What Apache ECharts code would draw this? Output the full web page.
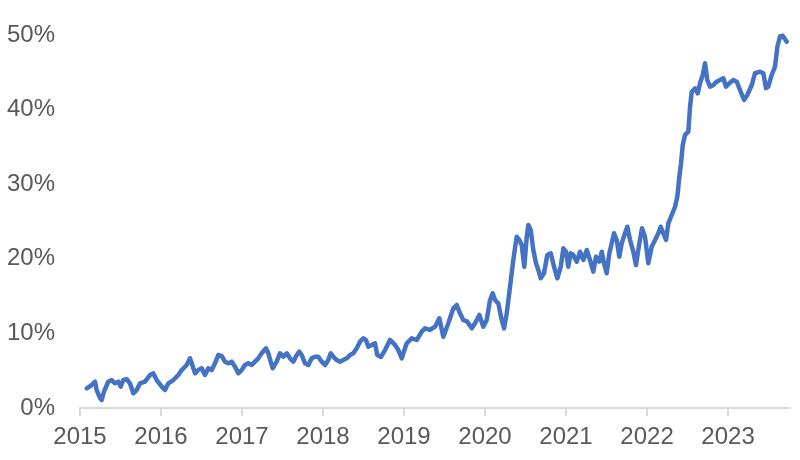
<!DOCTYPE html>
<html>
<head>
<meta charset="utf-8">
<style>html,body{margin:0;padding:0;background:#fff}#c{width:800px;height:460px}</style>
<script src="https://cdn.jsdelivr.net/npm/echarts@6/dist/echarts.min.js"></script>
</head>
<body>
<div id="c"></div>
<script>
// decimal years
const years = [
2015.083,2015.144,2015.185,2015.206,2015.247,2015.268,2015.296,2015.349,2015.391,2015.432,2015.473,2015.502,2015.535,2015.577,2015.617,2015.658,2015.700,2015.741,2015.802,2015.864,2015.905,2015.947,2016.009,2016.049,2016.090,2016.152,2016.214,2016.256,2016.317,
2016.358,2016.379,2016.420,2016.460,2016.502,2016.543,2016.584,2016.626,2016.667,2016.707,2016.749,2016.790,2016.831,2016.873,2016.914,2016.954,2016.996,2017.037,2017.078,2017.120,2017.160,2017.201,2017.243,2017.296,2017.325,2017.354,2017.379,2017.428,2017.469,
2017.510,2017.552,2017.593,2017.633,2017.675,2017.707,2017.737,2017.778,2017.819,2017.860,2017.901,2017.942,2017.984,2018.025,2018.065,2018.095,2018.127,2018.169,2018.210,2018.251,2018.293,2018.333,2018.374,2018.416,2018.457,2018.498,2018.531,2018.559,2018.601,2018.642,2018.670,
2018.716,2018.765,2018.827,2018.889,2018.930,2018.972,2019.033,2019.095,2019.157,2019.219,2019.259,2019.321,2019.383,2019.436,2019.485,2019.547,2019.609,2019.651,2019.691,2019.732,2019.781,2019.836,2019.877,2019.930,
2019.979,2020.021,2020.062,2020.095,2020.123,2020.164,2020.206,2020.235,2020.268,2020.309,2020.349,2020.391,2020.423,2020.453,2020.485,2020.515,2020.535,2020.564,2020.596,2020.630,2020.658,2020.688,2020.728,2020.769,2020.811,2020.852,2020.893,2020.935,2020.967,2021.000,2021.028,2021.058,2021.090,2021.132,2021.173,
2021.214,2021.256,2021.296,2021.337,2021.370,2021.411,2021.441,2021.469,2021.502,2021.535,2021.564,2021.593,2021.626,2021.658,2021.688,2021.728,2021.757,2021.790,2021.831,2021.864,2021.905,2021.938,2021.975,2022.016,2022.058,2022.099,2022.140,2022.169,2022.201,2022.235,2022.263,2022.305,2022.346,2022.374,2022.399,2022.420,2022.441,2022.469,2022.510,
2022.531,2022.552,2022.593,2022.626,2022.654,2022.688,2022.716,2022.744,2022.778,2022.819,2022.860,2022.901,2022.942,2022.975,2023.016,2023.065,2023.107,2023.148,2023.198,2023.238,2023.293,2023.333,2023.395,2023.436,2023.469,2023.497,2023.539,2023.580,2023.609,2023.642,2023.675,2023.695,2023.725
];
// share, percent
const shares = [
2.64,3.08,3.53,2.41,1.34,1.07,2.18,3.53,3.75,3.31,3.53,2.86,3.75,3.85,3.31,1.97,2.41,3.31,3.53,4.42,4.65,3.75,2.86,2.41,3.31,3.75,4.42,5.09,5.76,
6.66,5.99,4.65,5.09,5.32,4.42,5.32,5.09,5.99,7.10,6.97,6.21,5.99,6.21,5.54,4.65,5.09,5.76,5.99,5.76,6.21,6.66,7.33,8.00,7.33,6.21,5.32,6.21,7.33,
6.88,7.33,6.66,6.21,7.10,7.55,7.10,5.99,5.76,6.66,6.88,6.88,6.21,5.76,6.43,7.33,6.88,6.43,6.21,6.43,6.66,7.10,7.33,8.00,8.89,9.34,9.12,8.22,8.45,8.67,7.10,
6.84,7.77,9.12,8.45,7.77,6.66,8.67,9.34,9.12,10.23,10.68,10.46,10.90,12.02,9.56,11.35,13.36,13.81,12.69,11.80,11.57,10.68,11.35,12.47,
10.90,11.80,14.48,15.38,14.48,14.03,11.80,10.68,12.69,16.26,19.84,22.96,22.52,21.85,18.94,22.96,24.53,23.86,21.18,19.40,18.50,17.39,18.06,20.51,20.74,18.94,17.39,18.94,21.41,20.95,18.94,20.74,20.51,19.61,20.95,
19.84,21.18,19.84,18.27,20.28,19.61,20.95,19.40,18.06,20.74,22.08,23.42,22.52,20.28,22.08,23.42,24.30,22.52,20.95,19.17,22.08,24.09,22.96,19.40,21.62,22.52,23.42,24.30,23.42,22.52,24.76,25.87,26.98,28.32,31.01,32.80,35.25,36.60,37.04,
40.39,42.40,42.86,42.18,43.53,44.64,46.21,43.97,43.07,43.30,43.74,43.97,44.20,43.07,43.53,43.97,43.74,42.63,41.29,41.96,43.30,44.87,45.08,44.87,42.86,43.07,44.64,45.75,48.43,49.80,49.90,49.56,49.10
];
const yearTicks = [2015,2016,2017,2018,2019,2020,2021,2022,2023];
const pctTicks = [0,10,20,30,40,50];

const fontFam = "'Liberation Sans',Arial,sans-serif";
const chart = echarts.init(document.getElementById('c'), null, {renderer:'canvas'});
chart.setOption({
  animation:false,
  backgroundColor:'#ffffff',
  grid:{left:80, right:10, top:35, bottom:52, containLabel:false},
  xAxis:{
    type:'value', min:2015, max:2023.765, interval:1,
    splitLine:{show:false},
    axisLine:{show:true, onZero:false, lineStyle:{color:'#d9d9d9', width:2}},
    axisTick:{show:true, length:8, customValues:yearTicks, lineStyle:{color:'#d9d9d9', width:2}},
    axisLabel:{customValues:yearTicks, margin:17, color:'#595959', fontSize:24, fontFamily:fontFam,
      formatter:v=>String(Math.round(v))}
  },
  yAxis:{
    type:'value', min:0, max:50, interval:10,
    splitLine:{show:false}, axisLine:{show:false}, axisTick:{show:false},
    axisLabel:{customValues:pctTicks, margin:25, color:'#595959', fontSize:24, fontFamily:fontFam,
      formatter:v=>v+'%'}
  },
  series:[{
    type:'line', showSymbol:false, symbol:'none',
    data: years.map((y,i)=>[y, shares[i]]),
    lineStyle:{color:'#4472C4', width:4.5, join:'round', cap:'round'},
    clip:false
  }]
});
</script>
</body>
</html>
